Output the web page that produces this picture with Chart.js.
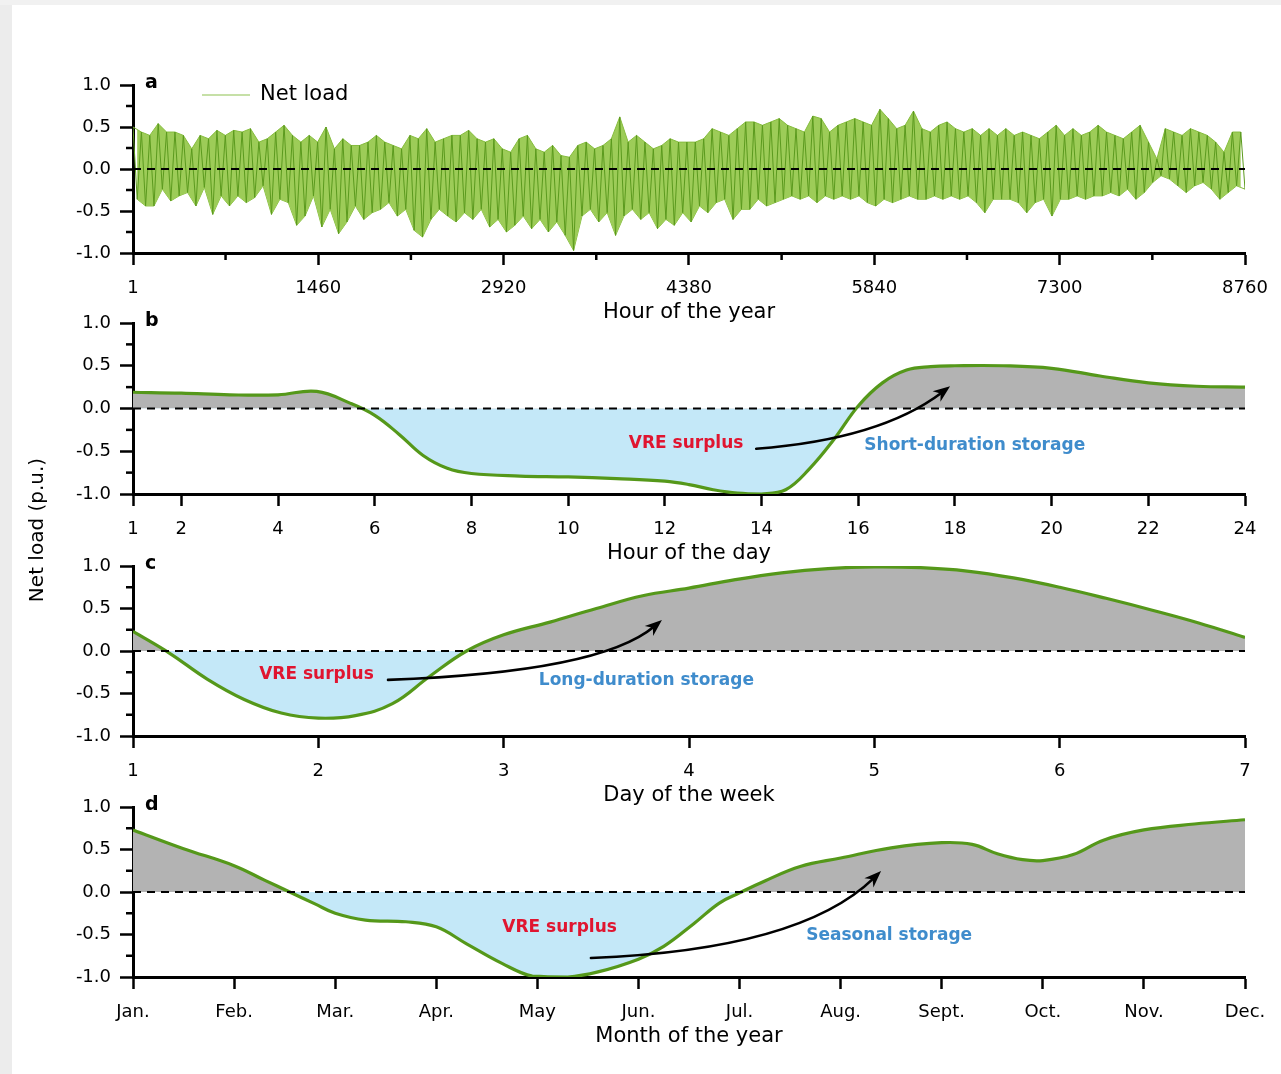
<!DOCTYPE html>
<html>
<head>
<meta charset="utf-8">
<script src="https://cdn.jsdelivr.net/npm/chart.js@4.4.1/dist/chart.umd.min.js"></script>
<style>
html,body{margin:0;padding:0;background:#fff;}
body{width:1281px;height:1074px;position:relative;overflow:hidden;}
canvas{position:absolute;left:0;}
#edgeL{position:absolute;left:0;top:0;width:12px;height:1074px;background:#ececec;}
#edgeT{position:absolute;left:0;top:0;width:1281px;height:5px;background:#f1f1f1;}
</style>
</head>
<body>
<div id="edgeL"></div><div id="edgeT"></div>
<canvas id="pa" width="1281" height="273" style="top:60px"></canvas>
<canvas id="pb" width="1281" height="336" style="top:298px"></canvas>
<canvas id="pc" width="1281" height="275" style="top:541px"></canvas>
<canvas id="pd" width="1281" height="275" style="top:782px"></canvas>
<script>
// ---------- DATA ----------
// Panel a: hour of the year, successive local peaks / troughs
const netPeaks = [
  0.50,0.44,0.40,0.54,0.44,0.44,0.40,0.24,0.40,0.36,0.46,0.40,0.46,0.44,0.48,0.32,0.36,0.44,0.52,0.40,0.32,0.40,
  0.32,0.50,0.24,0.36,0.28,0.28,0.32,0.40,0.32,0.28,0.24,0.40,0.36,0.48,0.32,0.36,0.40,0.40,0.46,0.36,0.32,0.36,
  0.24,0.20,0.36,0.40,0.24,0.20,0.28,0.16,0.14,0.28,0.32,0.24,0.28,0.36,0.62,0.32,0.40,0.32,0.24,0.28,0.36,0.32,
  0.32,0.32,0.36,0.48,0.44,0.40,0.48,0.56,0.56,0.52,0.56,0.60,0.52,0.48,0.44,0.63,0.60,0.44,0.52,0.56,0.60,0.56,
  0.52,0.71,0.60,0.48,0.52,0.69,0.48,0.44,0.52,0.56,0.48,0.44,0.48,0.40,0.48,0.40,0.48,0.40,0.44,0.40,0.36,0.44,
  0.52,0.40,0.48,0.40,0.44,0.52,0.44,0.40,0.36,0.44,0.52,0.32,0.12,0.48,0.44,0.40,0.48,0.44,0.40,0.32,0.20,0.44,0.44
];
const netTroughs = [
  -0.36,-0.44,-0.44,-0.24,-0.38,-0.32,-0.28,-0.44,-0.22,-0.54,-0.32,-0.44,-0.32,-0.40,-0.34,-0.20,-0.54,-0.36,-0.40,-0.67,-0.56,-0.32,
  -0.69,-0.48,-0.77,-0.63,-0.44,-0.60,-0.52,-0.48,-0.40,-0.56,-0.48,-0.73,-0.81,-0.60,-0.48,-0.56,-0.63,-0.52,-0.60,-0.48,-0.69,-0.60,
  -0.75,-0.67,-0.56,-0.71,-0.60,-0.75,-0.63,-0.79,-0.97,-0.56,-0.48,-0.63,-0.52,-0.79,-0.56,-0.48,-0.60,-0.52,-0.71,-0.60,-0.67,-0.52,
  -0.63,-0.44,-0.52,-0.40,-0.36,-0.60,-0.48,-0.48,-0.36,-0.44,-0.40,-0.36,-0.32,-0.36,-0.32,-0.40,-0.32,-0.36,-0.32,-0.36,-0.32,-0.40,
  -0.44,-0.36,-0.40,-0.36,-0.32,-0.36,-0.36,-0.32,-0.36,-0.32,-0.36,-0.32,-0.40,-0.52,-0.36,-0.36,-0.36,-0.40,-0.52,-0.40,-0.36,-0.56,
  -0.36,-0.36,-0.32,-0.36,-0.32,-0.32,-0.28,-0.32,-0.24,-0.36,-0.28,-0.16,-0.08,-0.12,-0.20,-0.28,-0.20,-0.16,-0.24,-0.36,-0.28,-0.20,-0.24
];
const yearTicks = [1, 1460, 2920, 4380, 5840, 7300, 8760];
const yearMinorTicks = [730, 2190, 3650, 5110, 6570, 8030];

// Panel b: hour of the day
const dayHours = [1,2,3,4,4.8,5.5,6,6.5,7,7.5,8,9,10,11,12,12.5,13,13.5,14,14.5,15,15.5,16,16.5,17,17.5,18,19,20,21,22,23,24];
const dayLoad  = [0.19,0.18,0.16,0.16,0.20,0.06,-0.08,-0.30,-0.55,-0.70,-0.76,-0.79,-0.80,-0.82,-0.85,-0.89,-0.95,-0.99,-1.0,-0.95,-0.70,-0.36,0.03,0.30,0.45,0.49,0.50,0.50,0.47,0.38,0.30,0.26,0.25];
const dayTicks = [1,2,4,6,8,10,12,14,16,18,20,22,24];

// Panel c: day of the week
const weekDays = [1,1.2,1.4,1.6,1.8,2,2.2,2.4,2.6,2.8,3,3.25,3.5,3.75,4,4.25,4.5,4.75,5,5.25,5.5,5.75,6,6.25,6.5,6.75,7];
const weekLoad = [0.23,-0.03,-0.33,-0.57,-0.73,-0.79,-0.76,-0.62,-0.30,0.0,0.19,0.34,0.50,0.65,0.74,0.84,0.92,0.97,0.99,0.98,0.94,0.86,0.75,0.62,0.48,0.33,0.16];
const weekTicks = [1,2,3,4,5,6,7];

// Panel d: month of the year (0 = Jan.)
const monthPos  = [0,0.5,1,1.3,1.55,1.8,2,2.3,2.7,3,3.3,3.65,3.95,4.3,4.6,5,5.25,5.55,5.8,6,6.25,6.6,7,7.5,8,8.3,8.55,8.8,9,9.3,9.6,10,10.5,11];
const monthLoad = [0.73,0.51,0.31,0.14,0,-0.14,-0.25,-0.33,-0.35,-0.41,-0.61,-0.84,-0.99,-1.0,-0.94,-0.79,-0.64,-0.37,-0.13,-0.01,0.13,0.30,0.40,0.52,0.58,0.56,0.45,0.38,0.37,0.44,0.61,0.73,0.80,0.85];
const monthLabels = ['Jan.','Feb.','Mar.','Apr.','May','Jun.','Jul.','Aug.','Sept.','Oct.','Nov.','Dec.'];
const monthTicks = [0,1,2,3,4,5,6,7,8,9,10,11];

const yMinorTicks = [-0.75,-0.25,0.25,0.75];

// ---------- STYLE ----------
const FONT = "'DejaVu Sans', 'Liberation Sans', sans-serif";
const RED = '#e01530', BLUE = '#3f8ccc';
const CURVE = '#55981a', GRAY = '#b3b3b3', LBLUE = '#c4e8f8';

function zeroLine(xmin, xmax) {
  return {label:'zero', data:[{x:xmin,y:0},{x:xmax,y:0}], borderColor:'#000', borderWidth:2.2,
          borderDash:[8,6], pointRadius:0, fill:false, order:0};
}

const decor = {
  id:'panelDecor',
  afterDraw(chart, args, o) {
    const {ctx, chartArea:ca} = chart;
    const xs = chart.scales.x, ys = chart.scales.y;
    ctx.save();
    ctx.strokeStyle = '#000'; ctx.lineWidth = 2.5;
    yMinorTicks.forEach(v => { const py = ys.getPixelForValue(v);
      ctx.beginPath(); ctx.moveTo(ca.left-7, py); ctx.lineTo(ca.left, py); ctx.stroke(); });
    (o.xMinor || []).forEach(v => { const px = xs.getPixelForValue(v);
      ctx.beginPath(); ctx.moveTo(px, ca.bottom); ctx.lineTo(px, ca.bottom+7); ctx.stroke(); });
    // panel letter
    ctx.fillStyle = '#000'; ctx.font = 'bold 19px ' + FONT; ctx.textAlign = 'left'; ctx.textBaseline = 'alphabetic';
    ctx.fillText(o.letter, ca.left + 12, ca.top + 3);
    // legend
    if (o.legend) {
      const ly = ca.top + 10;
      ctx.strokeStyle = '#b3d68a'; ctx.lineWidth = 1.6;
      ctx.beginPath(); ctx.moveTo(ca.left + 69, ly); ctx.lineTo(ca.left + 117, ly); ctx.stroke();
      ctx.fillStyle = '#000'; ctx.font = '21px ' + FONT; ctx.textBaseline = 'middle';
      ctx.fillText(chart.data.datasets[1].label, ca.left + 127, ly);
    }
    // annotation texts
    (o.texts || []).forEach(t => {
      ctx.fillStyle = t.color; ctx.font = 'bold 17px ' + FONT; ctx.textAlign = 'center'; ctx.textBaseline = 'middle';
      ctx.fillText(t.text, xs.getPixelForValue(t.x), ys.getPixelForValue(t.y));
    });
    // arrow
    if (o.arrow) {
      const a = o.arrow;
      const p0 = [xs.getPixelForValue(a.from[0]), ys.getPixelForValue(a.from[1])];
      const c  = [xs.getPixelForValue(a.ctrl[0]), ys.getPixelForValue(a.ctrl[1])];
      const p1 = [xs.getPixelForValue(a.to[0]), ys.getPixelForValue(a.to[1])];
      const ang = Math.atan2(p1[1]-c[1], p1[0]-c[0]);
      const L = 17, W = 6.5;
      const ex = p1[0] - Math.cos(ang)*L*0.6, ey = p1[1] - Math.sin(ang)*L*0.6;
      ctx.strokeStyle = '#000'; ctx.lineWidth = 2.6; ctx.lineCap = 'round';
      ctx.beginPath(); ctx.moveTo(p0[0], p0[1]); ctx.quadraticCurveTo(c[0], c[1], ex, ey); ctx.stroke();
      ctx.fillStyle = '#000';
      const bx = p1[0] - Math.cos(ang)*L, by = p1[1] - Math.sin(ang)*L;
      ctx.beginPath();
      ctx.moveTo(p1[0], p1[1]);
      ctx.lineTo(bx + Math.sin(ang)*W, by - Math.cos(ang)*W);
      ctx.lineTo(p1[0] - Math.cos(ang)*L*0.7, p1[1] - Math.sin(ang)*L*0.7);
      ctx.lineTo(bx - Math.sin(ang)*W, by + Math.cos(ang)*W);
      ctx.closePath(); ctx.fill();
    }
    // shared y title
    if (o.yTitle) {
      ctx.save();
      ctx.translate(38, ca.bottom + 36);
      ctx.rotate(-Math.PI/2);
      ctx.fillStyle = '#000'; ctx.font = '20px ' + FONT; ctx.textAlign = 'center'; ctx.textBaseline = 'middle';
      ctx.fillText(o.yTitle, 0, 0);
      ctx.restore();
    }
    ctx.restore();
  }
};

function makeOptions(p) {
  return {
    responsive:false, animation:false, events:[],
    layout:{padding:{left:0, right:36, top:25, bottom:p.extraBottom || 0}},
    plugins:{legend:{display:false}, tooltip:{enabled:false}, panelDecor:p.decor},
    scales:{
      x:{type:'linear', min:p.xmin, max:p.xmax,
        afterFit(s){ s.height = 80; },
        afterBuildTicks(s){ s.ticks = p.xticks.map(v => ({value:v})); },
        grid:{display:true, drawOnChartArea:false, drawTicks:true, tickLength:12, tickWidth:2.5, tickColor:'#000'},
        border:{display:true, color:'#000', width:3},
        ticks:{color:'#000', font:{family:FONT, size:18}, padding:13, maxRotation:0, autoSkip:false, callback:p.xlabel},
        title:{display:true, text:p.xtitle, color:'#000', font:{family:FONT, size:21}, padding:{top:0, bottom:8}}
      },
      y:{min:-1, max:1,
        afterFit(s){ s.width = 133; },
        grid:{display:true, drawOnChartArea:false, drawTicks:true, tickLength:13, tickWidth:2.5, tickColor:'#000'},
        border:{display:true, color:'#000', width:3},
        ticks:{stepSize:0.5, color:'#000', font:{family:FONT, size:18}, padding:9, callback:v => Number(v).toFixed(1)}
      }
    }
  };
}

// ---------- Panel a ----------
const nPts = netPeaks.length * 2;
const hourAt = k => 1 + k * 8759 / (nPts - 1);
const netSeries = [], peakSeries = [], troughSeries = [];
for (let i = 0; i < netPeaks.length; i++) {
  netSeries.push({x: hourAt(2*i), y: netPeaks[i]});
  netSeries.push({x: hourAt(2*i+1), y: netTroughs[i]});
  peakSeries.push({x: hourAt(2*i), y: netPeaks[i]});
  troughSeries.push({x: hourAt(2*i+1), y: netTroughs[i]});
}
new Chart(document.getElementById('pa'), {
  type:'line',
  data:{datasets:[
    zeroLine(1, 8760),
    {label:'Net load', data:netSeries, borderColor:'#5b9a1e', borderWidth:1, pointRadius:0, tension:0, fill:false, order:1},
    {label:'daily max', data:peakSeries, borderColor:'#86bd3e', borderWidth:1, pointRadius:0, tension:0,
     fill:'+1', backgroundColor:'#9dcc58', order:2},
    {label:'daily min', data:troughSeries, borderColor:'#86bd3e', borderWidth:1, pointRadius:0, tension:0, fill:false, order:3}
  ]},
  options:makeOptions({xmin:1, xmax:8760, xticks:yearTicks, xlabel:v => String(v), xtitle:'Hour of the year',
    decor:{letter:'a', xMinor:yearMinorTicks, legend:true}}),
  plugins:[decor]
});

// ---------- Panel b ----------
new Chart(document.getElementById('pb'), {
  type:'line',
  data:{datasets:[
    zeroLine(1, 24),
    {label:'Hour of the day', data:dayHours.map((h,i) => ({x:h, y:dayLoad[i]})), borderColor:CURVE, borderWidth:3.2,
     pointRadius:0, tension:0.4, fill:{target:'origin', above:GRAY, below:LBLUE}, order:1}
  ]},
  options:makeOptions({xmin:1, xmax:24, xticks:dayTicks, xlabel:v => String(v), xtitle:'Hour of the day', extraBottom:60,
    decor:{letter:'b', yTitle:'Net load (p.u.)',
      texts:[{text:'VRE surplus', x:12.44, y:-0.41, color:RED}, {text:'Short-duration storage', x:18.41, y:-0.43, color:BLUE}],
      arrow:{from:[13.89,-0.47], ctrl:[16.45,-0.36], to:[17.9,0.26]}}}),
  plugins:[decor]
});

// ---------- Panel c ----------
new Chart(document.getElementById('pc'), {
  type:'line',
  data:{datasets:[
    zeroLine(1, 7),
    {label:'Day of the week', data:weekDays.map((d,i) => ({x:d, y:weekLoad[i]})), borderColor:CURVE, borderWidth:3.2,
     pointRadius:0, tension:0.4, fill:{target:'origin', above:GRAY, below:LBLUE}, order:1}
  ]},
  options:makeOptions({xmin:1, xmax:7, xticks:weekTicks, xlabel:v => String(v), xtitle:'Day of the week',
    decor:{letter:'c',
      texts:[{text:'VRE surplus', x:1.99, y:-0.28, color:RED}, {text:'Long-duration storage', x:3.77, y:-0.35, color:BLUE}],
      arrow:{from:[2.376,-0.34], ctrl:[3.52,-0.25], to:[3.854,0.365]}}}),
  plugins:[decor]
});

// ---------- Panel d ----------
new Chart(document.getElementById('pd'), {
  type:'line',
  data:{datasets:[
    zeroLine(0, 11),
    {label:'Month of the year', data:monthPos.map((m,i) => ({x:m, y:monthLoad[i]})), borderColor:CURVE, borderWidth:3.2,
     pointRadius:0, tension:0.4, fill:{target:'origin', above:GRAY, below:LBLUE}, order:1}
  ]},
  options:makeOptions({xmin:0, xmax:11, xticks:monthTicks, xlabel:v => monthLabels[v], xtitle:'Month of the year',
    decor:{letter:'d',
      texts:[{text:'VRE surplus', x:4.22, y:-0.42, color:RED}, {text:'Seasonal storage', x:7.48, y:-0.51, color:BLUE}],
      arrow:{from:[4.53,-0.776], ctrl:[6.6,-0.68], to:[7.4,0.247]}}}),
  plugins:[decor]
});
</script>
</body>
</html>
